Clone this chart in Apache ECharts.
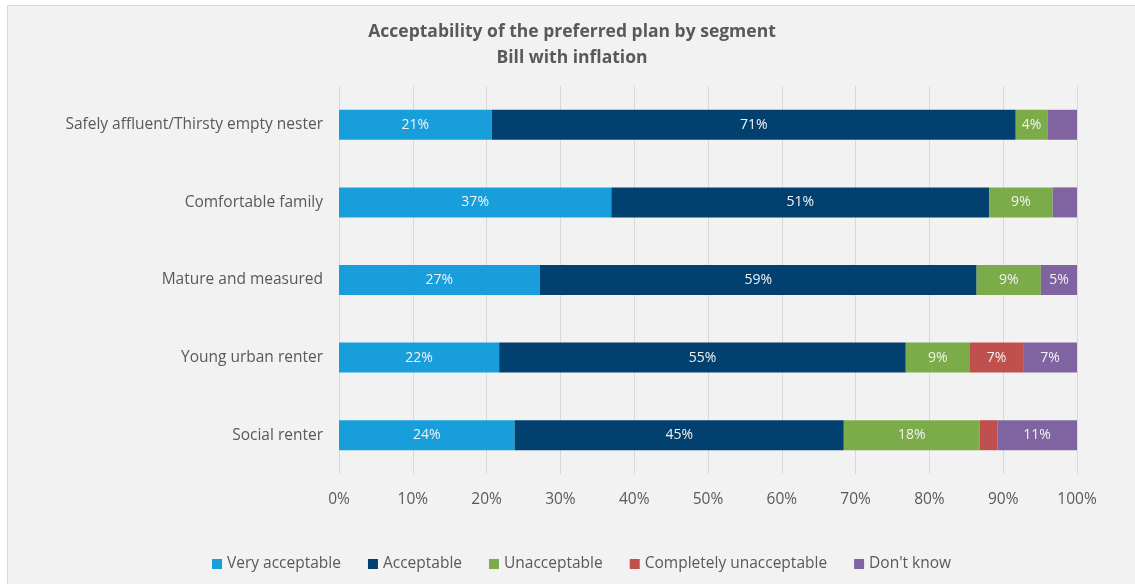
<!DOCTYPE html>
<html>
<head>
<meta charset="utf-8">
<script src="https://cdn.jsdelivr.net/npm/echarts@6/dist/echarts.min.js"></script>
<style>
  html, body { margin: 0; padding: 0; background: #ffffff; overflow: hidden; }
  #frame { position: absolute; left: 7px; top: 5px; width: 1140px; height: 590px;
           border: 1px solid #d9d9d9; background: #f2f2f2; }
  #chart { position: absolute; left: 0; top: 0; width: 1128px; height: 579px; }
</style>
</head>
<body>
<div id="frame"><div id="chart"></div></div>
<script>
// Segments, listed bottom to top as the category axis draws them
const segments = ['Social renter', 'Young urban renter', 'Mature and measured',
                  'Comfortable family', 'Safely affluent/Thirsty empty nester'];

// Share of each segment (%) per answer
const veryAcceptable         = [23.8, 21.7, 27.2, 36.9, 20.7];
const acceptable             = [44.6, 55.1, 59.2, 51.2, 71.0];
const unacceptable           = [18.4,  8.7,  8.7,  8.6,  4.3];
const completelyUnacceptable = [ 2.4,  7.2,  0.0,  0.0,  0.0];
const dontKnow               = [10.8,  7.3,  4.9,  3.3,  4.0];

const seriesNames = ['Very acceptable', 'Acceptable', 'Unacceptable',
                     'Completely unacceptable', "Don't know"];
const seriesData = [veryAcceptable, acceptable, unacceptable,
                    completelyUnacceptable, dontKnow];
const colors = ['#189fdb', '#02416f', '#7cac4a', '#c0504d', '#8064a2'];

const axisTicks = [0, 10, 20, 30, 40, 50, 60, 70, 80, 90, 100];

const font = '"Open Sans", "Noto Sans", sans-serif';
const chart = echarts.init(document.getElementById('chart'), null, { renderer: 'canvas' });

chart.setOption({
  backgroundColor: '#f2f2f2',
  animation: false,
  color: colors,
  title: {
    text: 'Acceptability of the preferred plan by segment\nBill with inflation',
    left: 'center',
    top: 8,
    textStyle: { fontFamily: font, fontSize: 17.5, fontWeight: 'bold',
                 color: '#595959', lineHeight: 26 }
  },
  legend: {
    bottom: 8,
    left: 199,
    itemWidth: 10,
    itemHeight: 10,
    itemGap: 27,
    icon: 'rect',
    textStyle: { fontFamily: font, fontSize: 15.5, color: '#595959' },
    data: seriesNames
  },
  grid: { left: 331, top: 80, width: 738, height: 388 },
  xAxis: {
    type: 'value',
    min: axisTicks[0],
    max: axisTicks[axisTicks.length - 1],
    interval: 10,
    axisLine: { show: false },
    axisTick: { show: false },
    splitLine: { show: true, lineStyle: { color: '#d9d9d9', width: 1 } },
    axisLabel: { formatter: v => v + '%', margin: 18,
                 fontFamily: font, fontSize: 15.5, color: '#595959' }
  },
  yAxis: {
    type: 'category',
    data: segments,
    axisLine: { show: false },
    axisTick: { show: false },
    axisLabel: { margin: 16, fontFamily: font, fontSize: 15.5, color: '#595959' }
  },
  series: seriesNames.map((name, i) => ({
    name: name,
    type: 'bar',
    stack: 'total',
    barWidth: 30,
    data: seriesData[i],
    label: {
      show: true,
      position: 'inside',
      fontFamily: font,
      fontSize: 14,
      color: '#f2f2f2',
      formatter: p => (p.value > 4.2 ? Math.round(p.value) + '%' : '')
    }
  }))
});
</script>
</body>
</html>
